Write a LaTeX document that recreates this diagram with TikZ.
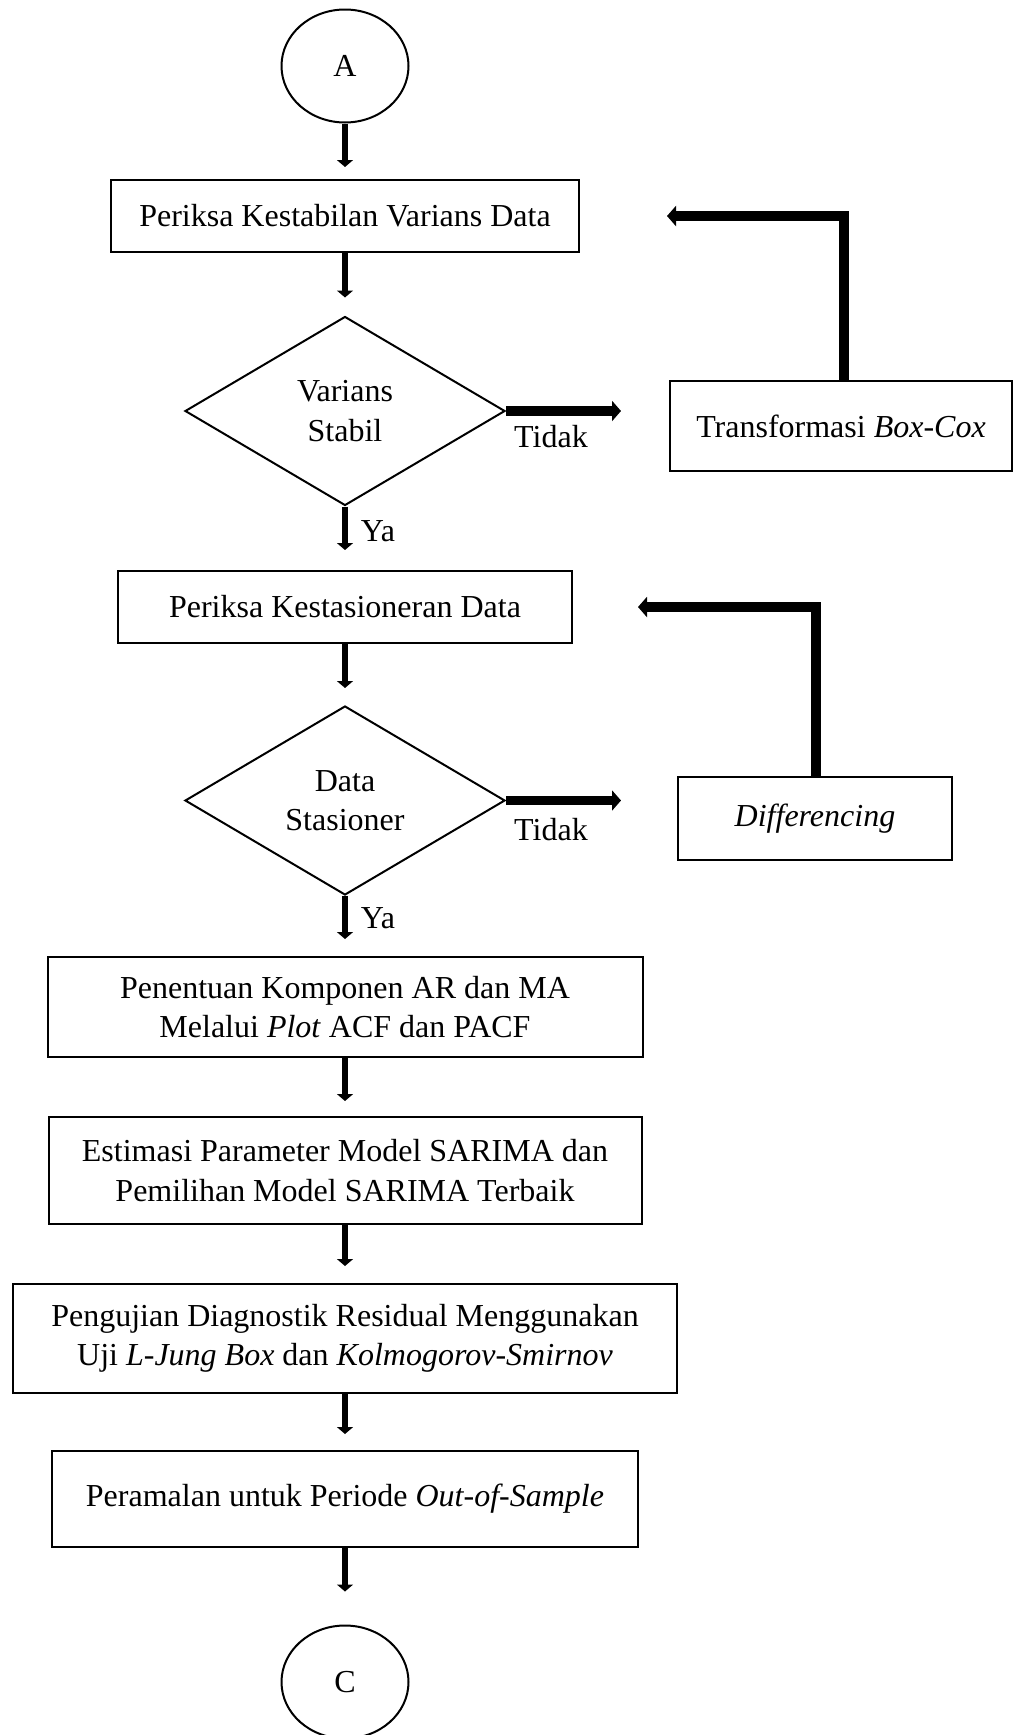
\documentclass[tikz,border=0pt]{standalone}
\usepackage{fontspec}
\setmainfont{Liberation Serif}
\usetikzlibrary{shapes.geometric,arrows.meta,calc}
\begin{document}
\begin{tikzpicture}[x=1pt,y=-1pt,
  every node/.style={font=\fontsize{32}{39.5}\selectfont},
  box/.style={draw,line width=2pt,rectangle,inner sep=0pt,align=center},
  conn/.style={draw,line width=2pt,ellipse,inner sep=0pt,minimum width=127pt,minimum height=113pt},
  dec/.style={draw,line width=2pt,diamond,aspect=1.693,inner sep=0pt,minimum width=320pt,minimum height=189pt,align=center},
  arr/.style={line width=6pt,-{Triangle[width=16pt,length=7pt]}},
  farr/.style={line width=9.5pt,-{Triangle[width=20pt,length=9pt]}},
  lbl/.style={inner sep=0pt}
]
\useasboundingbox (0,0) rectangle (1013,1735);

\node[conn] (A) at (345,66) {A};
\node[box,minimum width=468pt,minimum height=72pt] (B1) at (345,216) {Periksa Kestabilan Varians Data};
\node[dec] (V1) at (345,411) {Varians\\Stabil};
\node[box,minimum width=342pt,minimum height=90pt] (T1) at (841,426) {Transformasi \textit{Box-Cox}};
\node[box,minimum width=454pt,minimum height=72pt] (B2) at (345,607) {Periksa Kestasioneran Data};
\node[dec] (V2) at (345,800.5) {Data\\Stasioner};
\node[box,minimum width=274pt,minimum height=83pt] (D) at (815,818.5) {\textit{Differencing}};
\node[box,minimum width=595pt,minimum height=100pt] (B3) at (345,1007) {Penentuan Komponen AR dan MA\\Melalui \textit{Plot} ACF dan PACF};
\node[box,minimum width=593pt,minimum height=107pt] (B4) at (345,1170.5) {Estimasi Parameter Model SARIMA dan\\Pemilihan Model SARIMA Terbaik};
\node[box,minimum width=664pt,minimum height=109pt] (B5) at (345,1338.5) {Pengujian Diagnostik Residual Menggunakan\\Uji \textit{L-Jung Box} dan \textit{Kolmogorov-Smirnov}};
\node[box,minimum width=586pt,minimum height=96pt] (B6) at (345,1499) {Peramalan untuk Periode \textit{Out-of-Sample}};
\node[conn] (C) at (345,1682) {C};

\draw[arr,shorten >=12pt] (A) -- (B1);
\draw[arr,shorten >=18pt] (B1) -- (V1);
\draw[arr,shorten >=20pt] (V1) -- (B2);
\draw[arr,shorten >=17pt] (B2) -- (V2);
\draw[arr,shorten >=17pt] (V2) -- (B3);
\draw[arr,shorten >=15pt] (B3) -- (B4);
\draw[arr,shorten >=17pt] (B4) -- (B5);
\draw[arr,shorten >=16pt] (B5) -- (B6);
\draw[arr,shorten >=33pt] (B6) -- (C);

\draw[farr,shorten >=48pt] (V1.east) -- (V1.east -| T1.west);
\draw[farr,shorten >=56pt] (V2.east) -- (V2.east -| D.west);
\draw[farr,shorten >=87pt] ([xshift=3pt]T1.north) |- (B1.east);
\draw[farr,shorten >=65pt] ([xshift=1pt]D.north) |- (B2.east);

\node[lbl] (t1) at (551,437) {Tidak};
\node[lbl] (t2) at (551,830) {Tidak};
\node[lbl] (y1) at (378,531) {Ya};
\node[lbl] (y2) at (378,918) {Ya};
\end{tikzpicture}
\end{document}
